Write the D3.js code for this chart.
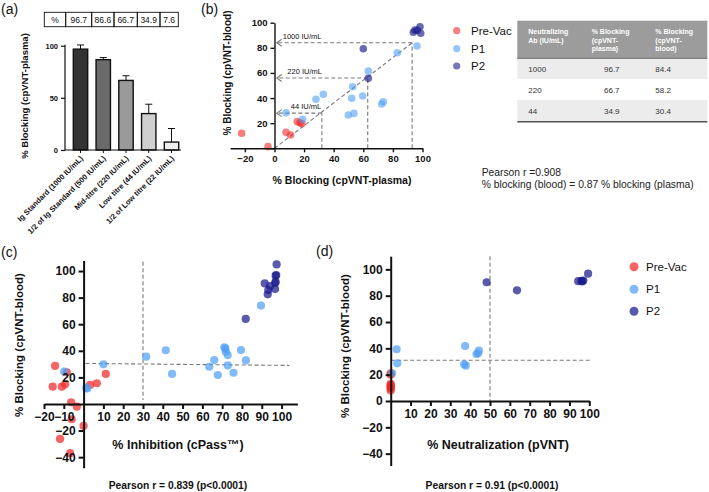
<!DOCTYPE html>
<html><head><meta charset="utf-8">
<script src="https://cdn.jsdelivr.net/npm/d3@7"></script>
<style>body{margin:0;background:#fff}svg{display:block}text{font-family:"Liberation Sans",Arial,sans-serif}</style>
</head><body>
<svg id="c" width="709" height="492"></svg>
<script>
// ---------- DATA ----------
// (a)
const aCategories = ["Ig Standard (1000 IU/mL)","1/2 of Ig Standard (500 IU/mL)","Mid-titre (220 IU/mL)","Low titre (44 IU/mL)","1/2 of Low titre (22 IU/mL)"];
const aValues = [96.7, 86.6, 66.7, 34.9, 7.6];
const aErrors = [4, 2, 4.5, 9, 13];
const aTableLabels = ["%", "96.7", "86.6", "66.7", "34.9", "7.6"];
const aYTicks = [0, 50, 100];
// (b)
const bPreVac = [[-22.2,12],[-4.4,1.3],[7.8,12.7],[10.9,10.6],[15.4,21.2],[17.2,20.4],[18.5,19.5]];
const bP1 = [[7.8,28.3],[19,23],[28,39],[33,43],[49.9,26.5],[53.7,27.8],[52.2,39.8],[52.8,49],[59.6,41.6],[63.4,61.5],[72.4,35.3],[73.5,37.1],[83,76.1],[96.3,81.5]];
const bP2 = [[60,79.3],[63.4,55.7],[93.8,92.4],[94.9,94.2],[98.3,96.8],[98.8,91.6],[96.5,94]];
const bRefPlasma = [32, 63, 93];
const bRefBlood = [28, 56, 84];
const bRefLabels = ["44 IU/mL", "220 IU/mL", "1000 IU/mL"];
const bXTicks = [-20, 0, 20, 40, 60, 80, 100];
const bYTicks = [0, 20, 40, 60, 80, 100];
const tableHeader = [["Neutralizing","Ab (IU/mL)"],["% Blocking","(cpVNT-","plasma)"],["% Blocking","(cpVNT-","blood)"]];
const tableRows = [["1000","96.7","84.4"],["220","66.7","58.2"],["44","34.9","30.4"]];
// (c)
const cPreVac = [[-14.4,28.6],[-15.6,13],[-11,13],[-9.3,14.8],[-8.5,23.8],[-6.3,1.3],[-3.4,-2],[-6,-11.5],[0,-16.5],[-11.9,-26.3],[-6.8,-37],[3.3,14.3],[6.7,15.6],[11.2,22.6]];
const cP1 = [[-9.8,24.3],[1.3,12.3],[1.8,11.6],[10,29.8],[31.6,35.6],[41.5,40.4],[44.7,22.6],[63.5,28],[66,33],[67.8,21.8],[71.1,42.6],[71.6,41.8],[71.8,39.3],[72.8,36.8],[72.8,29],[75.7,23.5],[79.5,40.6],[82,32.8],[89.6,74]];
const cP2 = [[81.9,64],[91.5,90.7],[93,82.5],[93.3,85.7],[94.2,88.7],[96.7,86.5],[97,92],[97,96.5],[97.3,97],[96.8,91],[97.5,105]];
const cXTicks = [-20,-10,10,20,30,40,50,60,70,80,90,100];
const cYTicks = [-40,-20,20,40,60,80,100];
// (d)
const dPreVac = [[0,21],[0,12],[0,9.6],[0,11],[0,13],[0,8],[0,10.5],[0,20]];
const dP1 = [[0.7,21],[3,39.3],[3.3,28.6],[37,27.9],[37.8,26.8],[37.5,41.8],[44.4,38.2],[43.2,35.7],[44,36.2]];
const dP2 = [[48.3,90.2],[63.6,84.1],[94.4,91],[96,91.2],[97,91.5],[96.5,90.8],[99.4,96.7]];
const dXTicks = [10,20,30,40,50,60,70,80,90,100];
const dYTicks = [-40,-20,0,20,40,60,80,100];
const groups = ["Pre-Vac","P1","P2"];

// ---------- STYLE ----------
const col = {"Pre-Vac":"rgb(240,40,40)", "P1":"rgb(80,160,245)", "P2":"rgb(26,26,140)"};
const aFills = ["#333333","#6a6a6a","#9a9a9a","#cfcfcf","#efefef"];
const dashCol = "#7a7a7a";

const svg = d3.select("#c");

function txt(x, y, s, size, weight, anchor) {
  return svg.append("text").attr("x", x).attr("y", y).text(s)
    .attr("font-size", size).attr("font-weight", weight || "normal")
    .attr("text-anchor", anchor || "start").attr("fill", "#111");
}
function vlabel(x, y, s, size) {
  svg.append("text").attr("transform", `translate(${x},${y}) rotate(-90)`)
    .attr("text-anchor","middle").attr("dominant-baseline","middle")
    .attr("font-size", size).attr("font-weight","bold").attr("fill","#111").text(s);
}
function styleAxis(g, w, fs) {
  g.selectAll("path").attr("stroke","#111").attr("stroke-width", w);
  g.selectAll("line").attr("stroke","#111").attr("stroke-width", w);
  g.selectAll("text").attr("font-size", fs).attr("font-weight","bold").attr("fill","#111")
    .attr("font-family","Liberation Sans, Arial, sans-serif");
}

// ================= (a) =================
txt(1, 14, "(a)", 14);
const aY = d3.scaleLinear().domain([0,100]).range([150, 45.7]);
const aX = d3.scaleBand().domain(aCategories).range([65, 187]).paddingInner(0.367).paddingOuter(0.365);
const aCellEdges = [44.3, 65.7, 91.7, 114, 137.3, 160, 178.3];
aTableLabels.forEach((s,i) => {
  svg.append("rect").attr("x", aCellEdges[i]).attr("y", 12.3).attr("width", aCellEdges[i+1]-aCellEdges[i]).attr("height", 14.4)
    .attr("fill","none").attr("stroke","#111").attr("stroke-width",0.9);
  txt((aCellEdges[i]+aCellEdges[i+1])/2, 22.8, s, 8.5, "normal", "middle");
});
aCategories.forEach((c,i) => {
  const x = aX(c), w = aX.bandwidth(), cx = x + w/2;
  const yTop = aY(aValues[i] + aErrors[i]);
  svg.append("line").attr("x1",cx).attr("x2",cx).attr("y1",aY(aValues[i])).attr("y2",yTop).attr("stroke","#111").attr("stroke-width",1);
  svg.append("line").attr("x1",cx-3.5).attr("x2",cx+3.5).attr("y1",yTop).attr("y2",yTop).attr("stroke","#111").attr("stroke-width",1);
  svg.append("rect").attr("x",x).attr("y",aY(aValues[i])).attr("width",w).attr("height",aY(0)-aY(aValues[i]))
    .attr("fill",aFills[i]).attr("stroke","#111").attr("stroke-width",1.4);
});
const aYAxis = svg.append("g").attr("transform","translate(65,0)")
  .call(d3.axisLeft(aY).tickValues(aYTicks).tickSize(4).tickSizeOuter(0));
styleAxis(aYAxis, 1.2, 7.5);
aYAxis.selectAll("path").remove();
svg.append("line").attr("x1",65).attr("x2",65).attr("y1",aY(0)).attr("y2",aY(100)-1).attr("stroke","#111").attr("stroke-width",1.2);
svg.append("line").attr("x1",65).attr("x2",181).attr("y1",aY(0)).attr("y2",aY(0)).attr("stroke","#111").attr("stroke-width",1.2);
aCategories.forEach((c) => {
  const cx = aX(c) + aX.bandwidth()/2;
  svg.append("line").attr("x1",cx).attr("x2",cx).attr("y1",aY(0)).attr("y2",aY(0)+3).attr("stroke","#111").attr("stroke-width",1);
  svg.append("text").attr("transform",`translate(${cx+3},${aY(0)+9}) rotate(-45)`)
    .attr("text-anchor","end").attr("font-size",7.6).attr("font-weight","bold").attr("fill","#111").text(c);
});
vlabel(25, 96, "% Blocking (cpVNT-plasma)", 9.5);

// ================= (b) =================
txt(201, 14, "(b)", 14);
const bX = d3.scaleLinear().domain([-30,100]).range([230.1, 422.5]);
const bY = d3.scaleLinear().domain([0,100]).range([148.3, 22.7]);
const dash = (x1,y1,x2,y2) => svg.append("line").attr("x1",x1).attr("y1",y1).attr("x2",x2).attr("y2",y2)
  .attr("stroke",dashCol).attr("stroke-width",1.1).attr("stroke-dasharray","4,2.5");
dash(bX(0), bY(0), bX(bRefPlasma[2]), bY(bRefBlood[2]));
bRefPlasma.forEach((p,i) => {
  const yb = bY(bRefBlood[i]);
  dash(bX(p), bY(0), bX(p), yb);
  dash(bX(p), yb, bX(1.5), yb);
  svg.append("path").attr("d",`M${bX(1.5)+5},${yb-3.5} L${bX(1.5)},${yb} L${bX(1.5)+5},${yb+3.5}`)
    .attr("fill","none").attr("stroke",dashCol).attr("stroke-width",1.1);
  txt(bX(1.5)+ [14,10.6,6][i], yb-4, bRefLabels[i], 7.5, "normal", "start");
});
function dots(data, xs, ys, g, r, op) {
  svg.append("g").selectAll("circle").data(data).join("circle")
    .attr("cx", d => xs(d[0])).attr("cy", d => ys(d[1])).attr("r", r)
    .attr("fill", col[g]).attr("fill-opacity", op);
}
dots(bPreVac, bX, bY, "Pre-Vac", 3.8, 0.6);
dots(bP1, bX, bY, "P1", 3.8, 0.6);
dots(bP2, bX, bY, "P2", 3.8, 0.65);
const bXAxis = svg.append("g").attr("transform",`translate(0,${bY(0)})`)
  .call(d3.axisBottom(bX).tickValues(bXTicks).tickSize(4).tickSizeOuter(0));
styleAxis(bXAxis, 1.4, 9.5);
const bYAxis = svg.append("g").attr("transform",`translate(${bX(0)},0)`)
  .call(d3.axisLeft(bY).tickValues(bYTicks).tickSize(4).tickSizeOuter(0));
styleAxis(bYAxis, 1.4, 9.5);
bYAxis.selectAll(".tick").filter(d => d === 0).select("text").remove();
txt(342, 184, "% Blocking (cpVNT-plasma)", 10.5, "bold", "middle");
vlabel(228, 73, "% Blocking (cpVNT-blood)", 10);
groups.forEach((g,i) => {
  const y = [30.7, 48.7, 66][i];
  svg.append("circle").attr("cx",456.7).attr("cy",y).attr("r",3.6).attr("fill",col[g]).attr("fill-opacity",0.6);
  txt(471, y+4, g, 11.5, "normal", "start");
});
const tX0 = 517.3, tX1 = 707.3;
svg.append("rect").attr("x",tX0).attr("y",20.7).attr("width",tX1-tX0).attr("height",37.6).attr("fill","#9c9c9c");
const rowY = [58.3, 79, 100, 121.7];
tableRows.forEach((r,i) => {
  svg.append("rect").attr("x",tX0).attr("y",rowY[i]).attr("width",tX1-tX0).attr("height",rowY[i+1]-rowY[i])
    .attr("fill", i % 2 === 0 ? "#ececec" : "#ffffff");
});
svg.append("line").attr("x1",tX0).attr("x2",tX1).attr("y1",58.3).attr("y2",58.3).attr("stroke","#666").attr("stroke-width",1);
svg.append("line").attr("x1",tX0).attr("x2",tX1).attr("y1",121.7).attr("y2",121.7).attr("stroke","#555").attr("stroke-width",1.5);
const colX = [528.3, 591.7, 655.3];
tableHeader.forEach((lines,j) => lines.forEach((s,k) => {
  svg.append("text").attr("x",colX[j]).attr("y",34 + k*8.6).attr("font-size",7).attr("font-weight","bold").attr("fill","#fff").text(s);
}));
const valX = [528.3, 604, 655.3];
tableRows.forEach((r,i) => r.forEach((s,j) => {
  txt(valX[j], [72, 93, 114][i], s, 8, "normal", "start").attr("fill","#333");
}));
txt(481.7, 175.5, "Pearson r =0.908", 10.3, "normal", "start").attr("fill","#222");
txt(481.7, 187.5, "% blocking (blood) = 0.87 % blocking (plasma)", 10.3, "normal", "start").attr("fill","#222");

// ================= (c) =================
txt(1, 257, "(c)", 14);
const cX = d3.scaleLinear().domain([-20,108]).range([44, 297.4]);
const cY = d3.scaleLinear().domain([-48,108]).range([467.8, 260.4]);
dash(cX(30), cY(107), cX(30), cY(3));
dash(cX(1), cY(30.5), cX(104), cY(29));
dots(cPreVac, cX, cY, "Pre-Vac", 4.1, 0.72);
dots(cP1, cX, cY, "P1", 4.1, 0.72);
dots(cP2, cX, cY, "P2", 4.1, 0.72);
const cXAxis = svg.append("g").attr("transform",`translate(0,${cY(0)})`)
  .call(d3.axisBottom(cX).tickValues(cXTicks).tickSize(5).tickSizeOuter(0));
styleAxis(cXAxis, 2, 12);
const cYAxis = svg.append("g").attr("transform",`translate(${cX(0)},0)`)
  .call(d3.axisLeft(cY).tickValues(cYTicks).tickSize(5).tickSizeOuter(0));
styleAxis(cYAxis, 2, 12);
txt(178, 449, "% Inhibition (cPass™)", 12.5, "bold", "middle");
txt(178, 488.5, "Pearson r = 0.839 (p<0.0001)", 10.3, "bold", "middle");
vlabel(20, 345, "% Blocking (cpVNT-blood)", 11.5);

// ================= (d) =================
txt(316, 256, "(d)", 14);
const dX = d3.scaleLinear().domain([0,100]).range([390.7, 589.3]);
const dY = d3.scaleLinear().domain([-49,110]).range([465.5, 256.2]);
dash(dX(50), dY(110), dX(50), dY(0));
dash(dX(0), dY(31), dX(101), dY(31));
dots(dPreVac, dX, dY, "Pre-Vac", 4.1, 0.72);
dots(dP1, dX, dY, "P1", 4.1, 0.72);
dots(dP2, dX, dY, "P2", 4.1, 0.72);
const dXAxis = svg.append("g").attr("transform",`translate(0,${dY(0)})`)
  .call(d3.axisBottom(dX).tickValues(dXTicks).tickSize(5).tickSizeOuter(0));
styleAxis(dXAxis, 2, 12);
const dYAxis = svg.append("g").attr("transform",`translate(${dX(0)},0)`)
  .call(d3.axisLeft(dY).tickValues(dYTicks).tickSize(5).tickSizeOuter(0));
styleAxis(dYAxis, 2, 12);
txt(498, 449, "% Neutralization (pVNT)", 12.5, "bold", "middle");
txt(492, 488.5, "Pearson r = 0.91 (p<0.0001)", 10.3, "bold", "middle");
vlabel(346, 346, "% Blocking (cpVNT-blood)", 11.5);
groups.forEach((g,i) => {
  const y = [266.7, 289.3, 311.3][i];
  svg.append("circle").attr("cx",634).attr("cy",y).attr("r",4.5).attr("fill",col[g]).attr("fill-opacity",0.72);
  txt(646, y+4, g, 11.5, "normal", "start");
});
</script>
</body></html>
